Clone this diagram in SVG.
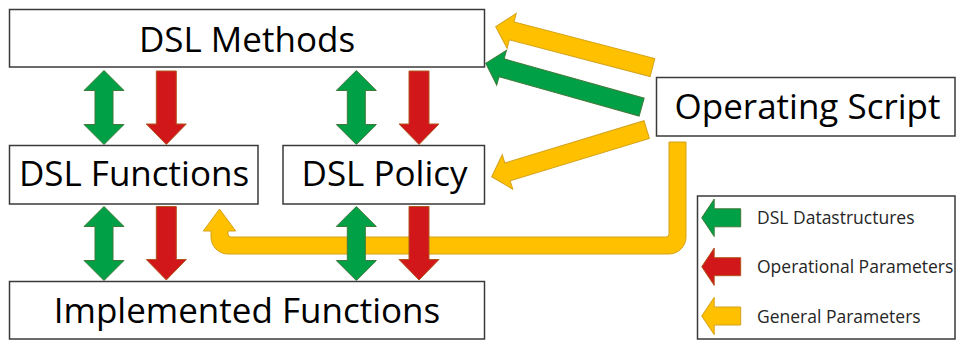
<svg xmlns="http://www.w3.org/2000/svg" xmlns:xlink="http://www.w3.org/1999/xlink" width="956" height="341" viewBox="0 0 956 341">
<style>
.box{fill:#fff;stroke:#3a3a3a;stroke-width:1.5}
.t{font-family:"Open Sans","Liberation Sans",sans-serif;font-size:35px;fill:#000;text-anchor:middle}
.lt{font-family:"Open Sans","Liberation Sans",sans-serif;font-size:17.5px;fill:#262626}
.g{fill:#00A047;stroke:#3F7A3A;stroke-width:1}
.r{fill:#D2171A;stroke:#B0561E;stroke-width:1}
.y{fill:#FFC000;stroke:#D3A21A;stroke-width:1}
</style>
<defs>
<path id="dbl" d="M0,0 L20,20 L9,20 L9,54 L20,54 L0,74 L-20,54 L-9,54 L-9,20 L-20,20 Z"/>
<path id="down" d="M-10,0 L10,0 L10,53 L20,53 L0,73.5 L-20,53 L-10,53 Z"/>
<path id="diag" d="M0,0 L16.5,-18 L16.5,-9.3 L162,-9.3 L162,9.3 L16.5,9.3 L16.5,18 Z"/>
<path id="leg" d="M0,0 L12.5,-18.7 L12.5,-9 L39,-9 L39,9 L12.5,9 L12.5,18.7 Z"/>
</defs>
<g id="methods"><rect class="box" x="9.5" y="9.5" width="475" height="57.5"/><text class="t" x="247" y="52">DSL Methods</text></g>
<g id="functions"><rect class="box" x="9.5" y="145.5" width="248.5" height="58.5"/><text class="t" x="134" y="186">DSL Functions</text></g>
<g id="policy"><rect class="box" x="283" y="145.5" width="201.5" height="58.5"/><text class="t" x="384.5" y="186">DSL Policy</text></g>
<g id="implemented"><rect class="box" x="9.5" y="281.5" width="475" height="57.5"/><text class="t" x="247" y="323">Implemented Functions</text></g>
<g id="operating"><rect class="box" x="656.5" y="77.5" width="298.5" height="58.5"/><text class="t" x="807.5" y="119">Operating Script</text></g>
<g id="connectors">
<path class="y" d="M669,142 L686,142 L686,237 A17,17 0 0 1 669,254 L228,254 A17,17 0 0 1 211,237 L211,231 L203.3,231 L219.5,209 L235.7,231 L228,231 L228,234 A3,3 0 0 0 231,237 L666,237 A3,3 0 0 0 669,234 Z"/>
<use xlink:href="#diag" class="y" transform="translate(495.7,26.7) rotate(14.6)"/>
<use xlink:href="#diag" class="g" transform="translate(485.7,63.3) rotate(15.7)"/>
<use xlink:href="#diag" class="y" transform="translate(491.7,176.7) rotate(-16.9)"/>
<use xlink:href="#dbl" class="g" transform="translate(104,70.5)"/>
<use xlink:href="#down" class="r" transform="translate(166.3,71)"/>
<use xlink:href="#dbl" class="g" transform="translate(356.3,70.5)"/>
<use xlink:href="#down" class="r" transform="translate(419,71)"/>
<use xlink:href="#dbl" class="g" transform="translate(104,206.5)"/>
<use xlink:href="#down" class="r" transform="translate(166.3,206.5)"/>
<use xlink:href="#dbl" class="g" transform="translate(356.3,206.5)"/>
<use xlink:href="#down" class="r" transform="translate(419,206.5)"/>
</g>
<g id="legend">
<rect class="box" x="697.5" y="196" width="257.5" height="143"/>
<use xlink:href="#leg" class="g" transform="translate(701.7,217.8)"/>
<use xlink:href="#leg" class="r" transform="translate(701.7,266.7)"/>
<use xlink:href="#leg" class="y" transform="translate(701.7,316)"/>
<text class="lt" x="757" y="224">DSL Datastructures</text>
<text class="lt" x="757" y="273.3">Operational Parameters</text>
<text class="lt" x="757" y="323.3">General Parameters</text>
</g>
</svg>
